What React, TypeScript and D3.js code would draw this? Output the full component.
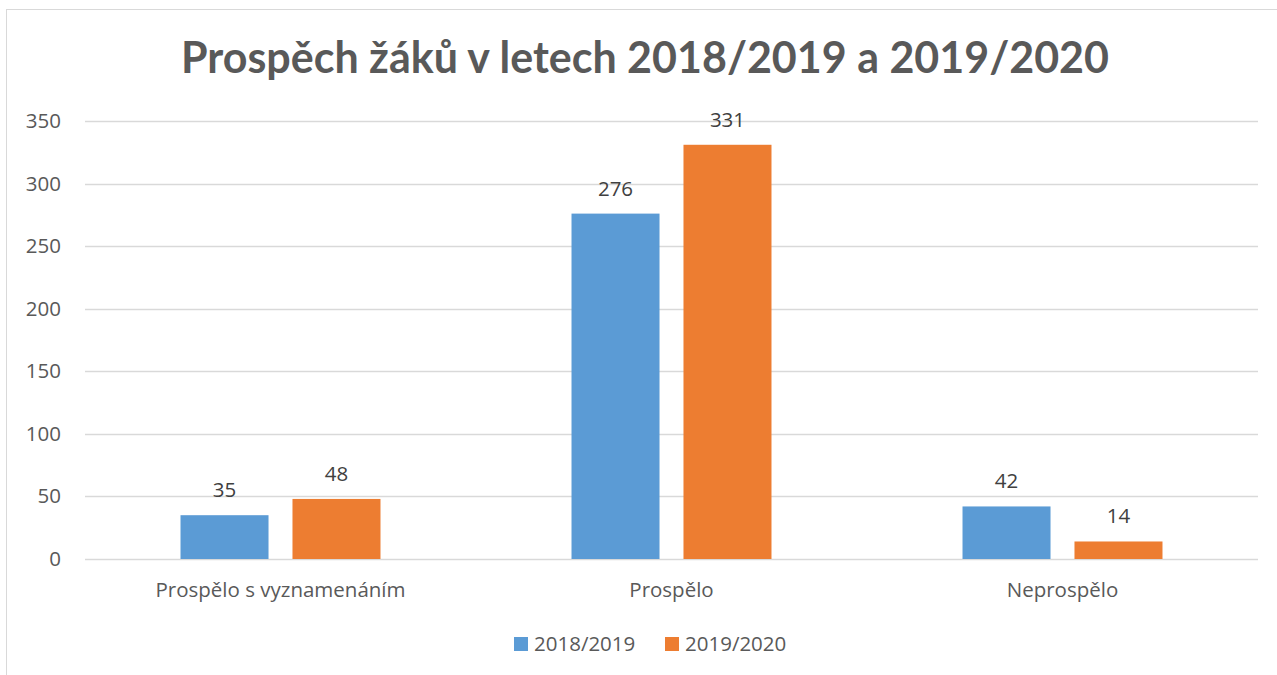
import React, { useEffect } from 'react';
import * as d3 from 'd3';

const title = 'Prospěch žáků v letech 2018/2019 a 2019/2020';
const categories = ['Prospělo s vyznamenáním', 'Prospělo', 'Neprospělo'];
const seriesNames = ['2018/2019', '2019/2020'];
const values2018 = [35, 276, 42];
const values2019 = [48, 331, 14];
const yTicks = [0, 50, 100, 150, 200, 250, 300, 350];
const colors = ['#5B9BD5', '#ED7D31'];

const W = 1277;
const H = 675;
const margin = { top: 121, right: 19, bottom: 116, left: 85 };
const titleFont = 'Lato, "Open Sans", sans-serif';
const font = '"Open Sans", Lato, sans-serif';
const fs = 20.5;

export default function App() {
  useEffect(() => {
    document.body.style.margin = '0';
  }, []);

  const x0 = d3
    .scaleBand<string>()
    .domain(categories)
    .range([margin.left, W - margin.right])
    .padding(0);

  const x1 = d3
    .scaleBand<string>()
    .domain(seriesNames)
    .range([0, x0.bandwidth()])
    .paddingInner(0.214)
    .paddingOuter(0.853);

  const y = d3.scaleLinear().domain([0, 350]).range([H - margin.bottom, margin.top]);

  const series = [values2018, values2019];

  return (
    <svg width={W} height={H} style={{ display: 'block', fontFamily: font }}>
      <rect x={0} y={0} width={W} height={H} fill="#fff" />
      <rect x={6.5} y={9.5} width={W + 20} height={H + 20} fill="none" stroke="#D9D9D9" strokeWidth={1} />

      <text
        x={645}
        y={73}
        textAnchor="middle"
        fontSize={43}
        fontWeight={700}
        fill="#595959"
        fontFamily={titleFont}
      >
        {title}
      </text>

      {/* gridlines + y labels */}
      {yTicks.map((t) => (
        <g key={t}>
          <line
            x1={margin.left}
            x2={W - margin.right}
            y1={Math.round(y(t)) + 0.5}
            y2={Math.round(y(t)) + 0.5}
            stroke="#D9D9D9"
            strokeWidth={1.3}
          />
          <text x={61} y={y(t) + 7} textAnchor="end" fontSize={fs} fill="#595959">
            {t}
          </text>
        </g>
      ))}

      {/* bars */}
      {categories.map((c, i) => (
        <g key={c} transform={`translate(${x0(c)},0)`}>
          {seriesNames.map((s, j) => {
            const v = series[j][i];
            const bx = x1(s)!;
            return (
              <g key={s}>
                <rect x={bx} y={y(v)} width={x1.bandwidth()} height={y(0) - y(v)} fill={colors[j]} />
                <text
                  x={bx + x1.bandwidth() / 2}
                  y={y(v) - 18}
                  textAnchor="middle"
                  fontSize={fs}
                  fill="#404040"
                >
                  {v}
                </text>
              </g>
            );
          })}
          <text x={x0.bandwidth() / 2} y={597} textAnchor="middle" fontSize={fs} fill="#595959">
            {c}
          </text>
        </g>
      ))}

      {/* legend */}
      {seriesNames.map((s, j) => {
        const lx = [514, 665][j];
        return (
          <g key={s}>
            <rect x={lx} y={637} width={14} height={14} fill={colors[j]} />
            <text x={lx + 20} y={651} fontSize={fs} fill="#595959">
              {s}
            </text>
          </g>
        );
      })}
    </svg>
  );
}
